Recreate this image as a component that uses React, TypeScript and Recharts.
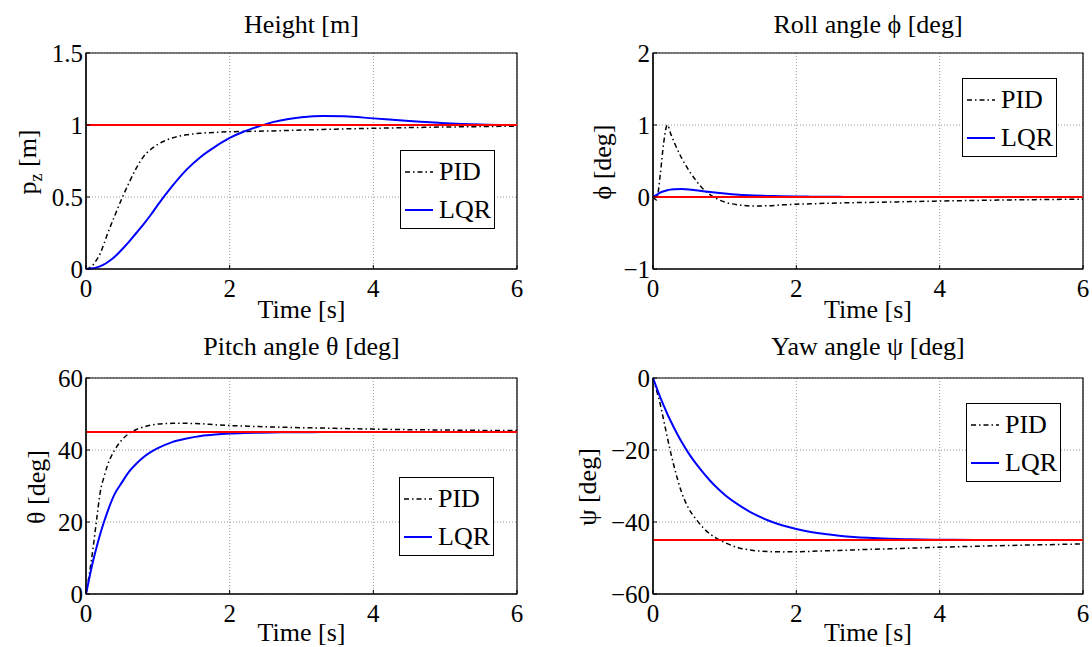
import React from "react";
import {
  CartesianGrid,
  Legend,
  Line,
  LineChart,
  ReferenceArea,
  ReferenceLine,
  XAxis,
  YAxis,
} from "recharts";

// sample times (s), shared by every panel
const time = [
  0, 0.05, 0.1, 0.15, 0.2, 0.25, 0.3, 0.4, 0.5, 0.6, 0.7, 0.8, 0.9, 1.0, 1.2, 1.4, 1.6, 1.8, 2.0,
  2.2, 2.4, 2.6, 2.8, 3.0, 3.3, 3.6, 4.0, 4.5, 5.0, 5.5, 6.0,
];

const heightPid = [
  0, 0.008, 0.03, 0.065, 0.11, 0.175, 0.245, 0.37, 0.49, 0.6, 0.7, 0.78, 0.83, 0.865, 0.91, 0.932,
  0.943, 0.949, 0.953, 0.955, 0.957, 0.959, 0.962, 0.965, 0.969, 0.973, 0.977, 0.982, 0.986, 0.989,
  0.992,
];
const heightLqr = [
  0, 0.001, 0.005, 0.011, 0.02, 0.032, 0.047, 0.085, 0.135, 0.19, 0.25, 0.31, 0.375, 0.445, 0.575,
  0.69, 0.78, 0.85, 0.91, 0.955, 0.99, 1.02, 1.04, 1.053, 1.062, 1.06, 1.046, 1.028, 1.013, 1.004,
  1.0,
];

const rollPid = [
  0, -0.04, 0.3, 0.76, 1.0, 0.87, 0.75, 0.54, 0.37, 0.23, 0.11, 0.03, -0.03, -0.07, -0.11, -0.125,
  -0.122, -0.11, -0.1, -0.095, -0.088, -0.083, -0.079, -0.075, -0.07, -0.064, -0.056, -0.048, -0.04,
  -0.035, -0.03,
];
const rollLqr = [
  0, 0.03, 0.06, 0.08, 0.095, 0.103, 0.108, 0.11, 0.105, 0.093, 0.08, 0.068, 0.058, 0.048, 0.032,
  0.022, 0.015, 0.01, 0.007, 0.005, 0.003, 0.002, 0.001, 0.001, 0, 0, 0, 0, 0, 0, 0,
];

const pitchPid = [
  0, 6, 13, 21, 28.5, 32.5, 35.8, 40, 42.8, 44.6, 45.7, 46.4, 46.9, 47.2, 47.4, 47.4, 47.3, 47.0,
  46.8, 46.65, 46.5, 46.4, 46.3, 46.2, 46.1, 45.95, 45.8, 45.65, 45.55, 45.45, 45.4,
];
const pitchLqr = [
  0, 4.8, 9.3, 13.2, 16.8, 20, 22.9, 27.8, 31, 34, 36.2, 38, 39.4, 40.5, 42.2, 43.2, 43.9, 44.3,
  44.55, 44.7, 44.8, 44.87, 44.92, 44.95, 44.97, 44.98, 45, 45, 45, 45, 45,
];

const yawPid = [
  0, -3.5, -7.2, -11.8, -16.5, -21, -25, -31.8, -36.3, -39.2, -41.6, -43.4, -44.7, -45.7, -47.2,
  -47.9, -48.2, -48.3, -48.25, -48.15, -48.0, -47.9, -47.75, -47.6, -47.45, -47.25, -47.0, -46.75,
  -46.5, -46.3, -46.1,
];
const yawLqr = [
  0, -2.7, -5.3, -7.7, -10.0, -12.1, -14.1, -17.8, -21.0, -23.8, -26.3, -28.6, -30.6, -32.4, -35.3,
  -37.7, -39.5, -40.9, -41.95, -42.75, -43.35, -43.8, -44.15, -44.4, -44.65, -44.8, -44.92, -44.97,
  -45, -45, -45,
];

const timeTicks = [0, 2, 4, 6];
const heightTicks = [0, 0.5, 1, 1.5];
const rollTicks = [-1, 0, 1, 2];
const pitchTicks = [0, 20, 40, 60];
const yawTicks = [-60, -40, -20, 0];

const heightRef = 1;
const rollRef = 0;
const pitchRef = 45;
const yawRef = -45;

const FONT = "Liberation Serif, Times New Roman, Times, serif";
const PLOT_H = 216;

const pidStyle = { stroke: "#000000", width: 1.5, dash: "5 3 1.5 3" };
const lqrStyle = { stroke: "#0000ff", width: 2, dash: undefined as string | undefined };
const legendOrder = ["PID", "LQR"];

const fmt = (v: number) => String(v).replace("-", "\u2212");

function rows(pid: number[], lqr: number[]) {
  return time.map((t, i) => ({ t, pid: pid[i], lqr: lqr[i] }));
}

function LegendBox(props: any) {
  const items = [...(props.payload || [])].sort(
    (a: any, b: any) => legendOrder.indexOf(a.value) - legendOrder.indexOf(b.value)
  );
  return (
    <div
      style={{
        width: 95,
        height: 79,
        boxSizing: "border-box",
        border: "1.5px solid #000",
        background: "#fff",
        paddingTop: 2,
        fontFamily: FONT,
        fontSize: 26,
        color: "#000",
      }}
    >
      {items.map((it: any) => {
        const st = it.value === "PID" ? pidStyle : lqrStyle;
        return (
          <div key={it.value} style={{ display: "flex", alignItems: "center", height: 38 }}>
            <svg width={34} height={10} style={{ marginLeft: 4 }}>
              <line
                x1={0}
                x2={28}
                y1={5}
                y2={5}
                stroke={st.stroke}
                strokeWidth={st.width}
                strokeDasharray={st.dash}
              />
            </svg>
            <span style={{ lineHeight: "38px" }}>{it.value}</span>
          </div>
        );
      })}
    </div>
  );
}

interface PanelProps {
  left: number;
  top: number;
  height: number;
  plotLeft: number;
  plotWidth: number;
  plotTop: number;
  title: string;
  titleY: number;
  xLabelY: number;
  yLabel: React.ReactNode;
  yLabelX: number;
  pid: number[];
  lqr: number[];
  yTicks: number[];
  target: number;
  legendLeft: number;
  legendTop: number;
}

function Panel(p: PanelProps) {
  const width = 546;
  const data = rows(p.pid, p.lqr);
  const yMin = p.yTicks[0];
  const yMax = p.yTicks[p.yTicks.length - 1];
  const cx = p.plotLeft + p.plotWidth / 2;
  const cy = p.plotTop + PLOT_H / 2 + 1;
  const tickStyle = { fontSize: 25, fill: "#000", fontFamily: FONT };
  return (
    <div style={{ position: "absolute", left: p.left, top: p.top, width, height: p.height }}>
      <LineChart
        width={width}
        height={p.height}
        data={data}
        style={{ fontFamily: FONT }}
        margin={{ top: p.plotTop, right: width - p.plotLeft - p.plotWidth, left: 0, bottom: 0 }}
      >
        <CartesianGrid stroke="#9a9a9a" strokeDasharray="1 2" strokeWidth={1} />
        <XAxis
          dataKey="t"
          type="number"
          domain={[0, 6]}
          ticks={timeTicks}
          height={p.height - p.plotTop - PLOT_H}
          tick={tickStyle}
          tickSize={-4}
          tickMargin={14}
          tickLine={{ stroke: "#000" }}
          axisLine={{ stroke: "#000", strokeWidth: 1.2 }}
        />
        <YAxis
          type="number"
          domain={[yMin, yMax]}
          ticks={p.yTicks}
          width={p.plotLeft}
          tick={tickStyle}
          tickFormatter={fmt}
          tickSize={-4}
          tickMargin={7}
          tickLine={{ stroke: "#000" }}
          axisLine={{ stroke: "#000", strokeWidth: 1.2 }}
        />
        <ReferenceArea
          x1={0}
          x2={6}
          y1={yMin}
          y2={yMax}
          fill="none"
          stroke="#000"
          strokeWidth={1.2}
        />
        <Line
          dataKey="pid"
          name="PID"
          type="monotone"
          stroke={pidStyle.stroke}
          strokeWidth={pidStyle.width}
          strokeDasharray={pidStyle.dash}
          dot={false}
          activeDot={false}
          isAnimationActive={false}
        />
        <Line
          dataKey="lqr"
          name="LQR"
          type="monotone"
          stroke={lqrStyle.stroke}
          strokeWidth={lqrStyle.width}
          dot={false}
          activeDot={false}
          isAnimationActive={false}
        />
        <ReferenceLine y={p.target} stroke="#ff0000" strokeWidth={2} />
        <Legend
          layout="vertical"
          align="center"
          verticalAlign="middle"
          content={LegendBox}
          wrapperStyle={{ left: p.legendLeft, top: p.legendTop, width: 95, height: 79 }}
        />
      </LineChart>
      <svg
        width={width}
        height={p.height}
        style={{ position: "absolute", left: 0, top: 0, pointerEvents: "none", fontFamily: FONT }}
        fill="#000"
      >
        <text x={cx} y={p.titleY} textAnchor="middle" fontSize={26}>
          {p.title}
        </text>
        <text x={cx} y={p.xLabelY} textAnchor="middle" fontSize={26}>
          Time [s]
        </text>
        <text
          transform={`translate(${p.yLabelX},${cy}) rotate(-90)`}
          textAnchor="middle"
          fontSize={26}
        >
          {p.yLabel}
        </text>
      </svg>
    </div>
  );
}

export default function App() {
  return (
    <div
      style={{
        position: "absolute",
        left: 0,
        top: 0,
        width: 1092,
        height: 647,
        background: "#fff",
        overflow: "hidden",
        fontFamily: FONT,
      }}
    >
      <Panel
        left={0}
        top={0}
        height={324}
        plotLeft={86}
        plotWidth={431}
        plotTop={53}
        title="Height [m]"
        titleY={33}
        xLabelY={318}
        yLabel={
          <>
            p
            <tspan fontSize={18} dy={6}>
              z
            </tspan>
            <tspan dy={-6}> [m]</tspan>
          </>
        }
        yLabelX={36}
        pid={heightPid}
        lqr={heightLqr}
        yTicks={heightTicks}
        target={heightRef}
        legendLeft={400}
        legendTop={150}
      />
      <Panel
        left={546}
        top={0}
        height={324}
        plotLeft={107}
        plotWidth={430}
        plotTop={53}
        title="Roll angle ϕ [deg]"
        titleY={33}
        xLabelY={318}
        yLabel="ϕ [deg]"
        yLabelX={65}
        pid={rollPid}
        lqr={rollLqr}
        yTicks={rollTicks}
        target={rollRef}
        legendLeft={416}
        legendTop={78}
      />
      <Panel
        left={0}
        top={324}
        height={323}
        plotLeft={86}
        plotWidth={431}
        plotTop={54}
        title="Pitch angle θ [deg]"
        titleY={31}
        xLabelY={317}
        yLabel="θ [deg]"
        yLabelX={45}
        pid={pitchPid}
        lqr={pitchLqr}
        yTicks={pitchTicks}
        target={pitchRef}
        legendLeft={399}
        legendTop={153}
      />
      <Panel
        left={546}
        top={324}
        height={323}
        plotLeft={107}
        plotWidth={430}
        plotTop={54}
        title="Yaw angle ψ [deg]"
        titleY={31}
        xLabelY={317}
        yLabel="ψ [deg]"
        yLabelX={50}
        pid={yawPid}
        lqr={yawLqr}
        yTicks={yawTicks}
        target={yawRef}
        legendLeft={420}
        legendTop={79}
      />
    </div>
  );
}
